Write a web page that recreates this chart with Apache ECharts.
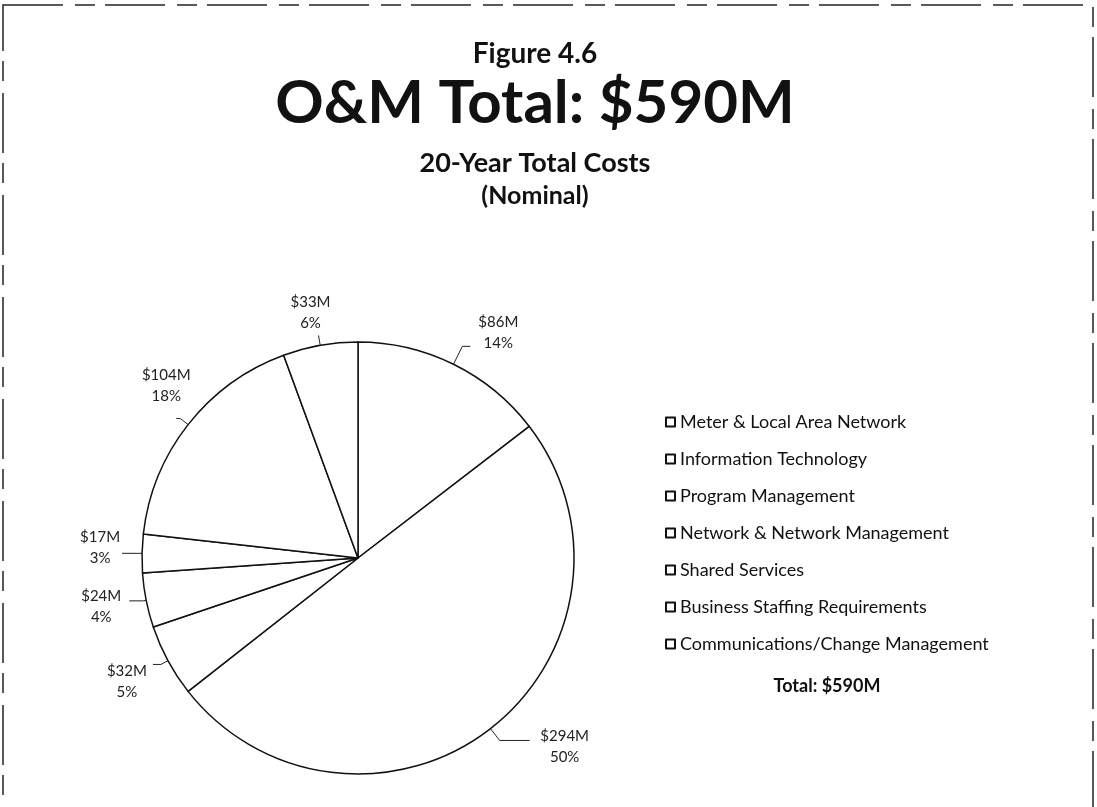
<!DOCTYPE html>
<html>
<head>
<meta charset="utf-8">
<title>Figure 4.6</title>
<script src="https://cdn.jsdelivr.net/npm/echarts@6/dist/echarts.min.js"></script>
<style>
  html, body { margin: 0; padding: 0; background: #fff; }
  #main { width: 1097px; height: 807px; }
</style>
</head>
<body>
<div id="main"></div>
<script>
// legend order = slice order (clockwise from 12 o'clock)
var categories = ['Meter & Local Area Network', 'Information Technology', 'Program Management',
  'Network & Network Management', 'Shared Services', 'Business Staffing Requirements',
  'Communications/Change Management'];
var costs = [86, 294, 32, 24, 17, 104, 33];      // $M
var shares = [14, 50, 5, 4, 3, 18, 6];           // % as printed

// leader line lengths and label nudges per slice, Excel-ish placement
var leadIn = [20, 15, 8, 3, 4, 10, 10];
var leadOut = [8, 30, 8, 14, 16, 4, 0];
var labelPad = [[0, 0, 28, 0], [12, 0, 0, 0], [34, 0, 0, 0], [12, 0, 0, 0], [0, 0, 12, 0], [0, 0, 66, 0], [0, 0, 46, 0]];
var labelDx = [0, 7, 2, 0, 6, 18, 20];

var chart = echarts.init(document.getElementById('main'));
var font = 'Lato, "Open Sans", sans-serif';

chart.setOption({
  backgroundColor: '#fff',
  animation: false,
  title: [
    { text: 'Figure 4.6', left: 530, top: 35, textAlign: 'center',
      textStyle: { fontFamily: font, fontSize: 28, fontWeight: 'bold', color: '#111' } },
    { text: 'O&M Total: $590M', left: 530, top: 69, textAlign: 'center',
      textStyle: { fontFamily: font, fontSize: 60, fontWeight: 'bold', color: '#111' } },
    { text: '20-Year Total Costs', left: 530, top: 145, textAlign: 'center',
      textStyle: { fontFamily: font, fontSize: 27, fontWeight: 'bold', color: '#111' } },
    { text: '(Nominal)', left: 530, top: 178, textAlign: 'center',
      textStyle: { fontFamily: font, fontSize: 25, fontWeight: 'bold', color: '#111' } },
    { text: 'Total: $590M', left: 822, top: 672, textAlign: 'center',
      textStyle: { fontFamily: font, fontSize: 18, fontWeight: 'bold', color: '#111' } }
  ],
  legend: {
    orient: 'vertical',
    left: 660,
    top: 408,
    itemGap: 19,
    itemWidth: 9,
    itemHeight: 9,
    icon: 'rect',
    data: categories,
    textStyle: { fontFamily: font, fontSize: 18, color: '#111' }
  },
  graphic: [{
    type: 'rect',
    shape: { x: 3, y: 5, width: 1090, height: 820 },
    style: { fill: 'none', stroke: '#222', lineWidth: 1.5, lineDash: [60, 12, 20, 10] },
    silent: true
  }],
  series: [{
    type: 'pie',
    center: [358, 558],
    radius: 216,
    startAngle: 90,
    clockwise: true,
    itemStyle: { color: '#fff', borderColor: '#111', borderWidth: 1.5 },
    label: {
      show: true,
      position: 'outside',
      distanceToLabelLine: 4,
      formatter: function (p) {
        return '{v|$' + costs[p.dataIndex] + 'M}\n{v|' + shares[p.dataIndex] + '%}';
      },
      rich: {
        v: { fontFamily: font, fontSize: 15, lineHeight: 21, color: '#222', width: 48, align: 'center' }
      }
    },
    labelLine: { show: true, lineStyle: { color: '#222', width: 1 } },
    labelLayout: function (p) {
      return { dx: labelDx[p.dataIndex] };
    },
    emphasis: { disabled: true },
    data: categories.map(function (c, i) {
      return {
        name: c,
        value: costs[i],
        label: { padding: labelPad[i] },
        labelLine: { length: leadIn[i], length2: leadOut[i] }
      };
    })
  }]
});
</script>
</body>
</html>
